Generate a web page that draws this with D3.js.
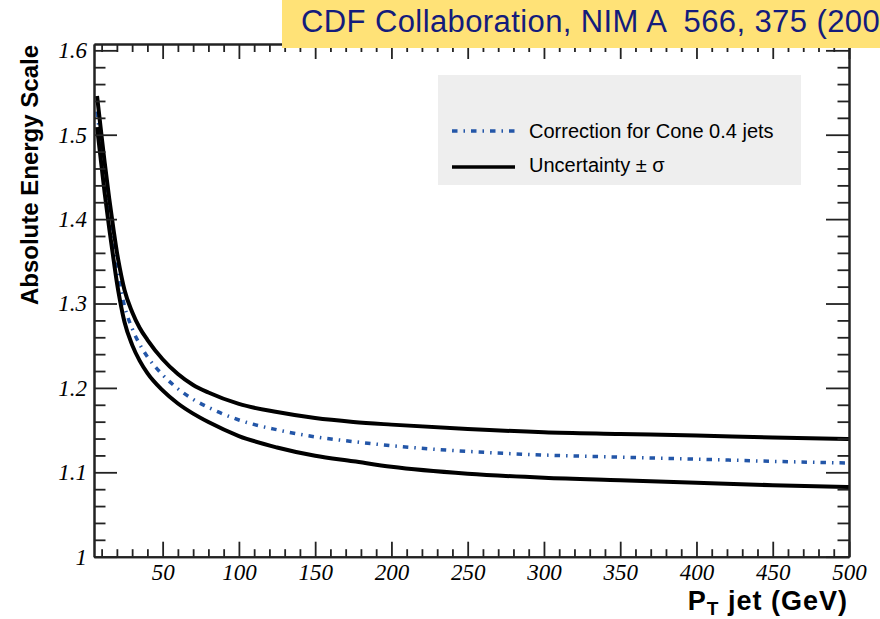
<!DOCTYPE html>
<html>
<head>
<meta charset="utf-8">
<script src="https://cdn.jsdelivr.net/npm/d3@7"></script>
<style>
  body { margin: 0; background: #fff; }
  .tick text { font-family: "Liberation Serif", serif; font-style: italic; font-size: 23px; fill: #000; }
  .tick line { stroke: #222; stroke-width: 1.8; }
  .domain { stroke: #222; stroke-width: 2; }
</style>
</head>
<body>
<div id="chart"></div>
<script>
// data
var pT = [7, 10, 12, 15, 18, 20, 22, 25, 30, 35, 40, 50, 60, 70, 80, 100, 125, 150, 175, 200, 250, 300, 350, 400, 450, 500];
var correction = [1.5275, 1.480, 1.449, 1.4065, 1.3675, 1.343, 1.3225, 1.297, 1.2705, 1.2515, 1.237, 1.2155, 1.199, 1.1865, 1.177,
                  1.162, 1.1504, 1.142, 1.1364, 1.1315, 1.1248, 1.1205, 1.118, 1.1156, 1.113, 1.111];
var upper = [1.546, 1.498, 1.467, 1.424, 1.385, 1.361, 1.341, 1.316, 1.290, 1.271, 1.257, 1.234, 1.2165, 1.2035, 1.1945,
             1.181, 1.1714, 1.1643, 1.1597, 1.1565, 1.1513, 1.1475, 1.1455, 1.1436, 1.1412, 1.1395];
var lower = [1.509, 1.462, 1.431, 1.389, 1.350, 1.325, 1.304, 1.278, 1.251, 1.232, 1.2175, 1.197, 1.1815, 1.1695, 1.1595,
             1.143, 1.1294, 1.1196, 1.1131, 1.1065, 1.0983, 1.0935, 1.0905, 1.0876, 1.0847, 1.0825];

var xMajor = [50, 100, 150, 200, 250, 300, 350, 400, 450, 500];
var xMinor = d3.range(10, 500, 10).filter(function(d) { return d % 50 != 0; });
var yMajor = [1, 1.1, 1.2, 1.3, 1.4, 1.5, 1.6];
var yMinor = d3.range(51).map(function(i) { return 1 + i * 0.02; }).filter(function(d, i) { return i % 5 != 0 && d < 1.605; });

var legendLabels = ["Correction for Cone 0.4 jets", "Uncertainty \u00b1 \u03c3"];
var titleText = "CDF Collaboration, NIM A  566, 375 (2006)";

// plot box
var margin = {top: 44, right: 31, bottom: 62.3, left: 94},
    width = 880 - margin.left - margin.right,
    height = 619 - margin.top - margin.bottom;

var x = d3.scaleLinear().domain([5, 500]).range([0, width]);
var y = d3.scaleLinear().domain([1, 1.6075]).range([height, 0]);

var svg = d3.select("#chart").append("svg")
    .attr("width", 880)
    .attr("height", 619);

var g = svg.append("g")
    .attr("transform", "translate(" + margin.left + "," + margin.top + ")");

// curves
function makeLine(vals) {
  return d3.line()
    .x(function(d, i) { return x(pT[i]); })
    .y(function(d) { return y(d); })
    .curve(d3.curveMonotoneX)(vals);
}

g.append("path")
    .attr("d", makeLine(correction))
    .attr("fill", "none")
    .attr("stroke", "#2356a8")
    .attr("stroke-width", 3.5)
    .attr("stroke-dasharray", "5.5,6,1.5,6");

g.append("path")
    .attr("d", makeLine(upper))
    .attr("fill", "none")
    .attr("stroke", "#000")
    .attr("stroke-width", 4);

g.append("path")
    .attr("d", makeLine(lower))
    .attr("fill", "none")
    .attr("stroke", "#000")
    .attr("stroke-width", 4);

// axes, ROOT style ticks on all four sides
var fmt = d3.format("~g");

g.append("g")
    .attr("transform", "translate(0," + height + ")")
    .call(d3.axisBottom(x).tickValues(xMinor).tickSizeInner(-7.5).tickSizeOuter(0).tickFormat(""));
g.append("g")
    .attr("transform", "translate(0," + height + ")")
    .call(d3.axisBottom(x).tickValues(xMajor).tickSizeInner(-15).tickSizeOuter(0).tickPadding(7).tickFormat(fmt));

g.append("g")
    .call(d3.axisTop(x).tickValues(xMinor).tickSizeInner(-8).tickSizeOuter(0).tickFormat(""));
g.append("g")
    .call(d3.axisTop(x).tickValues(xMajor).tickSizeInner(-15).tickSizeOuter(0).tickFormat(""));

g.append("g")
    .call(d3.axisLeft(y).tickValues(yMinor).tickSizeInner(-11.5).tickSizeOuter(0).tickFormat(""));
g.append("g")
    .call(d3.axisLeft(y).tickValues(yMajor).tickSizeInner(-23).tickSizeOuter(0).tickPadding(7).tickFormat(fmt));

g.append("g")
    .attr("transform", "translate(" + width + ",0)")
    .call(d3.axisRight(y).tickValues(yMinor).tickSizeInner(-11.5).tickSizeOuter(0).tickFormat(""));
g.append("g")
    .attr("transform", "translate(" + width + ",0)")
    .call(d3.axisRight(y).tickValues(yMajor).tickSizeInner(-23).tickSizeOuter(0).tickFormat(""));

// axis titles
var xt = svg.append("text")
    .attr("x", 848)
    .attr("y", 610)
    .attr("text-anchor", "end")
    .style("font-family", "'Liberation Sans', Arial, sans-serif")
    .style("font-weight", "bold")
    .style("font-size", "27px")
    .style("letter-spacing", "1px");
xt.append("tspan").text("P");
xt.append("tspan").attr("dy", 5).style("font-size", "19px").text("T");
xt.append("tspan").attr("dy", -5).text(" jet (GeV)");

svg.append("text")
    .attr("transform", "translate(38,45) rotate(-90)")
    .attr("text-anchor", "end")
    .style("font-family", "'Liberation Sans', Arial, sans-serif")
    .style("font-weight", "bold")
    .style("font-size", "24px")
    .text("Absolute Energy Scale");

// legend
var legend = svg.append("g");
legend.append("rect")
    .attr("x", 438).attr("y", 75)
    .attr("width", 363).attr("height", 110)
    .attr("fill", "#eeeeee");

legend.append("line")
    .attr("x1", 452).attr("x2", 515)
    .attr("y1", 131).attr("y2", 131)
    .attr("stroke", "#2356a8")
    .attr("stroke-width", 3.5)
    .attr("stroke-dasharray", "5.5,6,1.5,6");
legend.append("line")
    .attr("x1", 452).attr("x2", 515)
    .attr("y1", 167).attr("y2", 167)
    .attr("stroke", "#000")
    .attr("stroke-width", 3.5);

legend.selectAll("text.leg")
    .data(legendLabels)
  .enter().append("text")
    .attr("class", "leg")
    .attr("x", 529)
    .attr("y", function(d, i) { return 138 + i * 34; })
    .style("font-family", "'Liberation Sans', Arial, sans-serif")
    .style("font-size", "20px")
    .text(function(d) { return d; });

// reference banner (cut at the right edge, as in the source slide)
svg.append("rect")
    .attr("x", 282).attr("y", 0)
    .attr("width", 600).attr("height", 48)
    .attr("fill", "#ffe277");
svg.append("text")
    .attr("x", 301)
    .attr("y", 32)
    .style("font-family", "'Liberation Sans', Arial, sans-serif")
    .style("font-size", "31px")
    .style("letter-spacing", "0.4px")
    .style("white-space", "pre")
    .attr("fill", "#141c7c")
    .text(titleText);
</script>
</body>
</html>
